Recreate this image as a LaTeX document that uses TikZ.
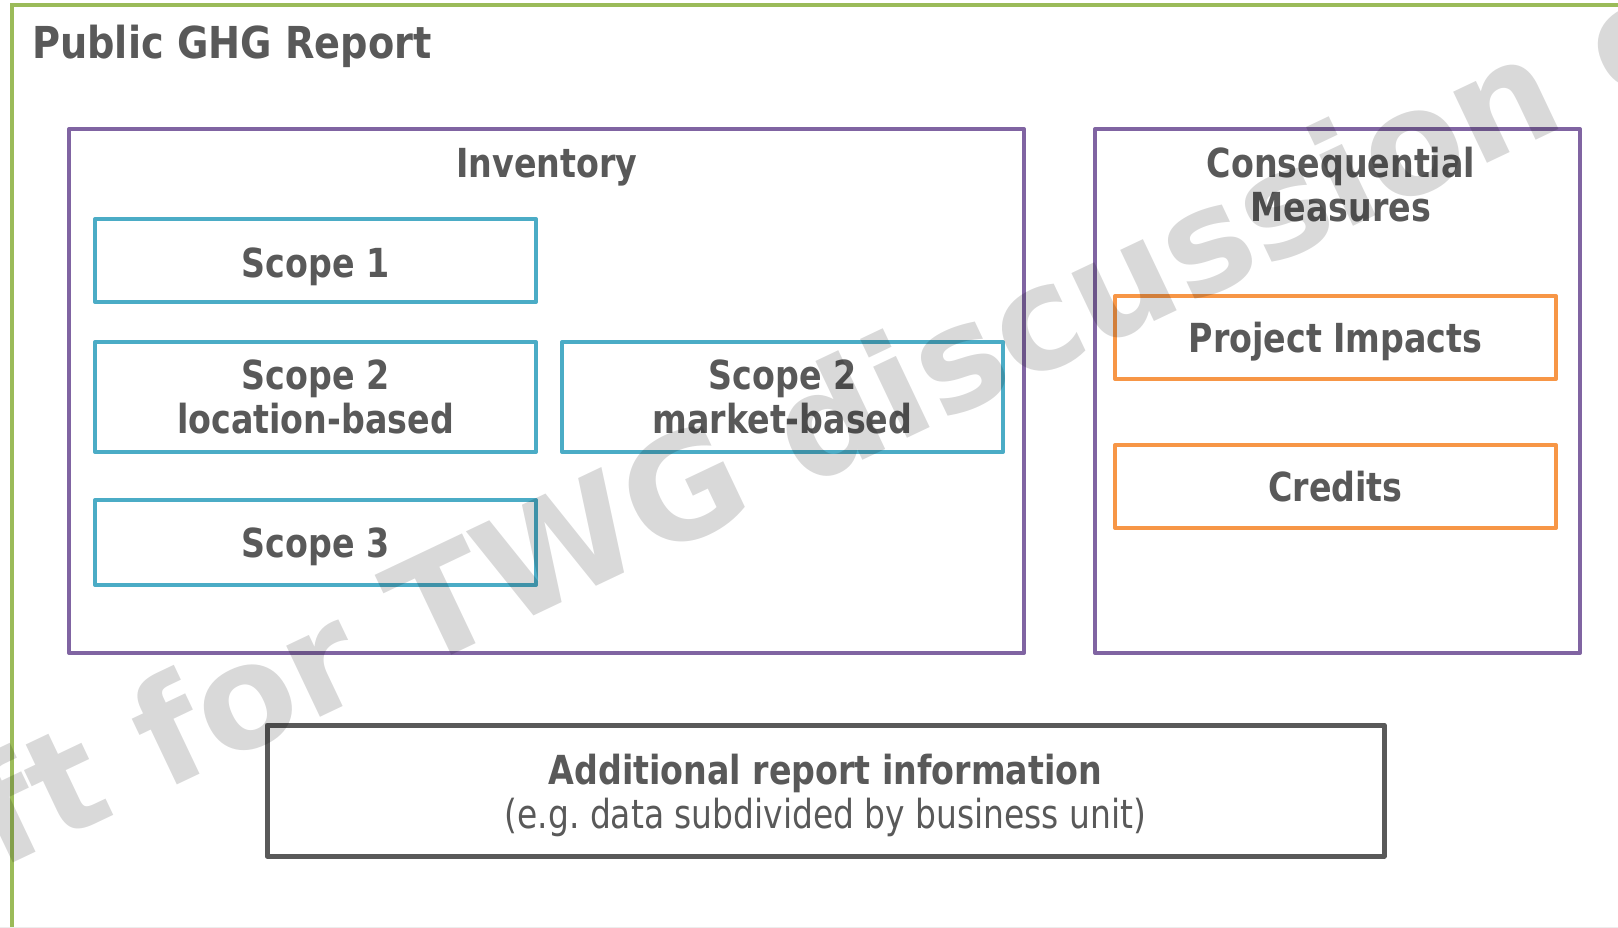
\documentclass[tikz,border=0pt]{standalone}
\usepackage{fontspec}
\newfontfamily\cond[FakeStretch=0.925]{DejaVu Sans Condensed}
\newfontfamily\condt[FakeStretch=0.967]{DejaVu Sans Condensed}
\newfontfamily\condr[FakeStretch=0.915]{DejaVu Sans Condensed}
\newfontfamily\wmfont{DejaVu Sans}
\definecolor{frame}{HTML}{9BBB59}
\definecolor{inv}{HTML}{8064A2}
\definecolor{scopec}{HTML}{4BACC6}
\definecolor{measc}{HTML}{F79646}
\definecolor{addc}{HTML}{595959}
\definecolor{txt}{HTML}{595959}
\frenchspacing
\begin{document}
\begin{tikzpicture}[x=1pt,y=-1pt,
  box/.style={draw, line width=4pt, line join=round, inner sep=0pt,
    text=txt, font=\cond\bfseries\fontsize{40}{44}\selectfont, align=center},
  group/.style={box, draw=inv},
  scopebox/.style={box, draw=scopec, minimum width=441pt},
  measbox/.style={box, draw=measc, minimum width=441pt, minimum height=83pt},
  heading/.style={text=txt, font=\cond\bfseries\fontsize{40}{44}\selectfont, align=center, inner sep=0pt},
  one/.style={text height=29pt, text depth=0pt}]
\useasboundingbox (0,0) rectangle (1618,928);
\fill[white] (0,0) rectangle (1618,928);

% outer frame of the report
\draw[frame, line width=4pt] (12,940) -- (12,5.5) -- (1640,5.5);
\draw[black!7, line width=1pt] (0,927.5) -- (1618,927.5);
\node[anchor=base west, text=txt, font=\condt\bfseries\fontsize{44}{48}\selectfont, inner sep=0pt]
  (title) at (32,59) {Public GHG Report};

% inventory group
\node[group, minimum width=955pt, minimum height=524pt] (inv) at (546.5,391) {};
\node[heading, anchor=base] (invt) at (547,178) {Inventory};
\node[scopebox, text height=34pt, text depth=0pt, minimum height=83pt] (s1) at (315.5,260.5) {Scope 1};
\node[scopebox, minimum height=110pt] (s2l) at (315.5,397) {Scope 2\\location-based};
\node[scopebox, minimum height=110pt] (s2m) at (782.5,397) {Scope 2\\market-based};
\node[scopebox, one, minimum height=85pt] (s3) at (315.5,542.5) {Scope 3};

% consequential measures group
\node[group, minimum width=485pt, minimum height=524pt] (cons) at (1337.5,391) {};
\node[heading, anchor=base] (const) at (1341,222) {Consequential\\Measures};
\node[measbox, one] (pi) at (1335.5,337.5) {Project Impacts};
\node[measbox, one] (cr) at (1335.5,486.5) {Credits};

% additional information
\node[box, draw=addc, line width=5pt, minimum width=1117pt, minimum height=131pt]
  (add) at (825.5,790.5) {\rule{0pt}{40pt}Additional report information\\{\condr\mdseries (e.g. data subdivided by business unit)}};

% watermark
\node[rotate=25.4, anchor=base, inner sep=0pt, text=black, text opacity=0.15,
  font=\wmfont\bfseries\fontsize{144}{150}\selectfont] (wm) at (833,474)
  {Draft for TWG discussion only};
\end{tikzpicture}
\end{document}
